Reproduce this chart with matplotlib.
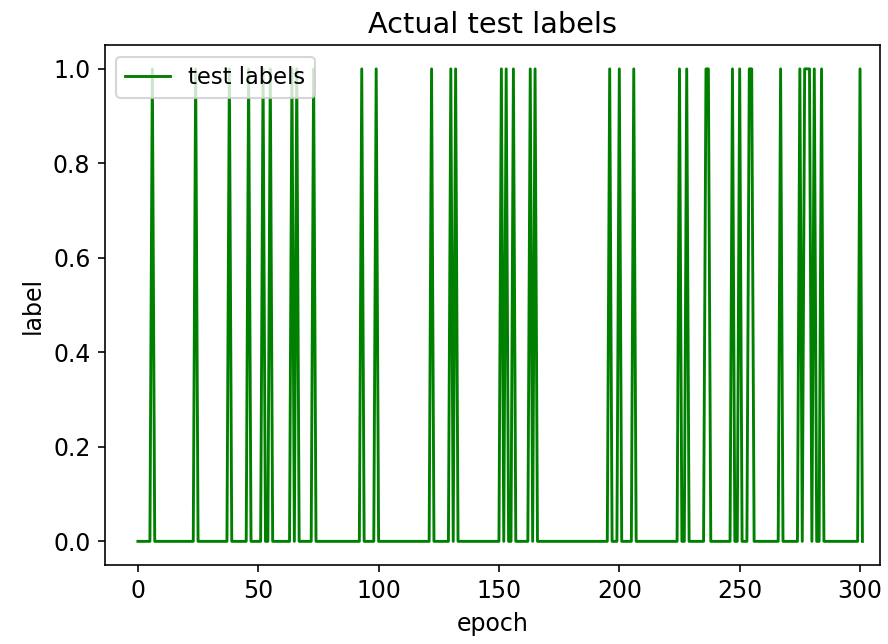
import matplotlib
matplotlib.use("Agg")
import matplotlib.pyplot as plt
import numpy as np

# ---------------------------------------------------------------------------
# Data: epochs whose test label is 1 (everything else is 0)
# ---------------------------------------------------------------------------
N_EPOCHS = 302
POSITIVE_EPOCHS = [6, 24, 38, 46, 52, 55, 64, 66, 73, 93, 99, 122, 130, 132,
                   151, 153, 156, 163, 165, 196, 200, 206, 225, 228, 236, 237,
                   247, 250, 254, 255, 267, 275, 277, 278, 279, 281, 284, 300]

epochs = np.arange(N_EPOCHS)
labels = np.zeros(N_EPOCHS)
labels[POSITIVE_EPOCHS] = 1.0

# ---------------------------------------------------------------------------
# Plot
# ---------------------------------------------------------------------------
plt.rcParams.update({"font.size": 11.5, "xtick.labelsize": 11.5,
                     "ytick.labelsize": 11.5})

fig = plt.figure(figsize=(888 / 148, 644 / 148), dpi=148)
ax = fig.add_axes([0.118, 0.1227, 0.873, 0.807])

ax.plot(epochs, labels, color="green", linewidth=1.4, label="test labels")
ax.set_xlim(-13.75, 308.3)
ax.set_ylim(-0.05, 1.05)
ax.set_title("Actual test labels", fontsize=14)
ax.set_xlabel("epoch")
ax.set_ylabel("label")
ax.legend(loc="upper left", fontsize=11)

fig.savefig("out.png", dpi=148)
